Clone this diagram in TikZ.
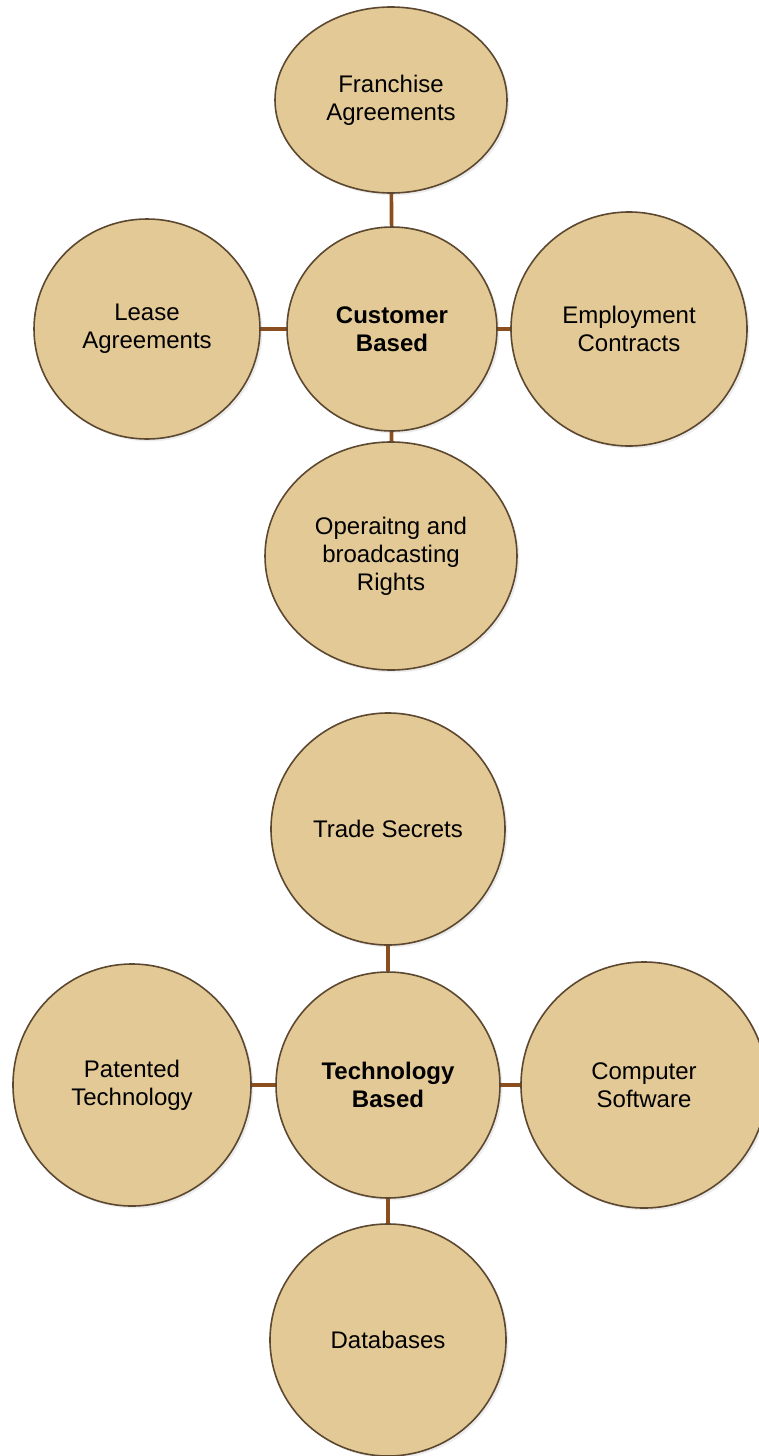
\documentclass[tikz,border=0pt]{standalone}
\usepackage{fontspec}
\setmainfont{Liberation Sans}
\usetikzlibrary{shapes.geometric,shadows}
\definecolor{bubblefill}{RGB}{227,201,149}
\definecolor{bubblerim}{RGB}{92,72,48}
\definecolor{twig}{RGB}{139,78,30}
\newcommand{\bubble}[4][]{
  \node[bubble,#1] (#2) at (#3) {#4};
}
\tikzset{
  bubble/.style = {ellipse, fill=bubblefill, draw=bubblerim, line width=0.8pt,
                   inner sep=0pt, align=center,
                   font=\fontsize{12}{14}\selectfont,
                   drop shadow={opacity=0.15, shadow xshift=1.2pt, shadow yshift=-1.2pt}},
  hub/.style = {font=\fontsize{12}{14}\selectfont\bfseries}
}

\begin{document}
\begin{tikzpicture}[x=0.5pt,y=-0.5pt]
	\useasboundingbox (0,0) rectangle (759,1456);
	\bubble[minimum width=116pt, minimum height=93pt]{fran}{391,100}{Franchise\\Agreements}
	\bubble[hub, minimum width=105pt, minimum height=102pt]{cust}{392,329}{Customer\\Based}
	\bubble[minimum width=113pt, minimum height=110pt]{lease}{147,329}{Lease\\Agreements}
	\bubble[minimum width=118pt, minimum height=117pt]{empl}{629,329}{Employment\\Contracts}
	\bubble[minimum width=126pt, minimum height=114pt]{oper}{391,556}{Operaitng and\\broadcasting\\Rights}
	\bubble[minimum width=117pt, minimum height=116pt]{trade}{388,829}{Trade Secrets}
	\bubble[hub, minimum width=112pt, minimum height=113pt]{tech}{388,1085}{Technology\\Based}
	\bubble[minimum width=119pt, minimum height=121pt]{pat}{132,1085}{Patented\\Technology}
	\bubble[minimum width=123pt, minimum height=123pt]{soft}{644,1085}{Computer\\Software}
	\bubble[minimum width=118pt, minimum height=116pt]{db}{388,1340}{Databases}
	\tikzstyle{link}=[draw=twig, line width=1.8pt]
	\draw[link] (fran) -- (cust);
	\draw[link] (lease) -- (cust);
	\draw[link] (cust) -- (empl);
	\draw[link] (cust) -- (oper);
	\draw[link] (trade) -- (tech);
	\draw[link] (pat) -- (tech);
	\draw[link] (tech) -- (soft);
	\draw[link] (tech) -- (db);
\end{tikzpicture}
\end{document}
